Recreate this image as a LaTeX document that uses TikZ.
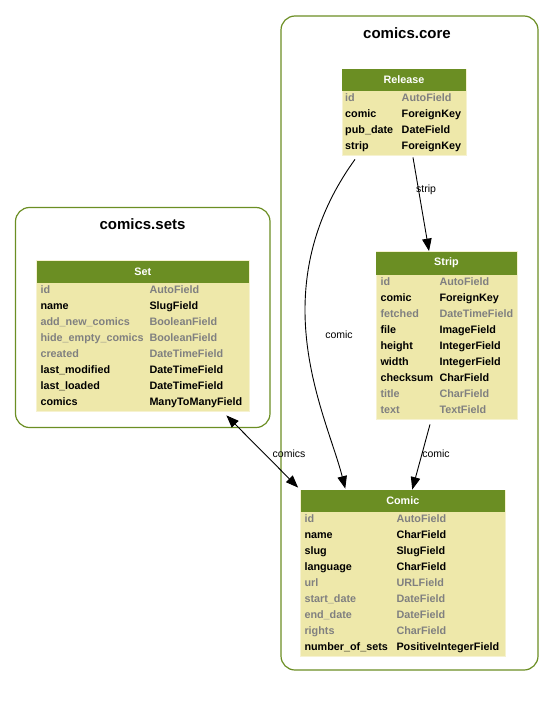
\documentclass[tikz,border=0pt]{standalone}
\usepackage{fontspec}
\setmainfont{Liberation Sans}
\usetikzlibrary{arrows.meta,fit}
\definecolor{olive}{HTML}{6B8E23}
\definecolor{pale}{HTML}{EEE8AA}
\definecolor{fieldgray}{HTML}{808080}

\tikzset{
  cluster/.style={draw=olive, line width=1.2pt, rounded corners=14pt, inner sep=0pt},
  clustertitle/.style={font=\bfseries\fontsize{15}{18}\selectfont, inner sep=0pt},
  tbody/.style={fill=pale, draw=pale!55!white, line width=0.8pt, inner sep=0pt},
  thead/.style={fill=olive, inner sep=0pt},
  headtext/.style={text=white, inner sep=0pt, font=\bfseries\fontsize{10.8}{12}\selectfont},
  fld/.style={font=\bfseries\fontsize{10.8}{12}\selectfont, inner sep=0pt, anchor=base west},
  key/.style={fld, text=black},
  opt/.style={fld, text=fieldgray},
  tip/.style={},
  edge/.style={draw=black, line width=0.9pt, -{Triangle[length=12.5pt,width=9.5pt]}},
  biedge/.style={edge, {Triangle[length=12.5pt,width=9.5pt]}-{Triangle[length=12.5pt,width=9.5pt]}},
  elabel/.style={font=\fontsize{10.5}{12}\selectfont, inner sep=0pt},
}

% table: name, left, right, top, header bottom, bottom, title
\newcommand\dbtable[7]{%
  \node[tbody, fit={(#2,#4) (#3,#6)}] (#1) {};
  \node[thead, fit={(#2,#4) (#3,#5)}] (#1-head) {};
  \node[headtext] (#1-title) at (#1-head.center) {#7};
}
% field row: node prefix, name x, type x, baseline y, name, type, style
\newcommand\frow[7]{%
  \node[#7] (#1-n) at (#2,#4) {#5};
  \node[#7] (#1-t) at (#3,#4) {#6};
}

\begin{document}
\begin{tikzpicture}[x=1pt, y=-1pt]
\useasboundingbox (0,0) rectangle (553,709);

% clusters
\node[cluster, fit={(281,16) (538,670)}] (core) {};
\node[clustertitle] (core-title) at (407,33) {comics.core};
\node[cluster, fit={(15.5,207.5) (270,427.5)}] (sets) {};
\node[clustertitle] (sets-title) at (142.5,224) {comics.sets};

% Release
\dbtable{release}{342}{466}{69}{91}{155}{Release}
\frow{release-id}{345}{401.5}{101.5}{id}{AutoField}{opt}
\frow{release-comic}{345}{401.5}{117.5}{comic}{ForeignKey}{key}
\frow{release-pub}{345}{401.5}{133.5}{pub\_date}{DateField}{key}
\frow{release-strip}{345}{401.5}{149.5}{strip}{ForeignKey}{key}

% Set
\dbtable{set}{36.5}{249}{260.5}{282.5}{411}{Set}
\frow{set-id}{40.3}{149.3}{293.5}{id}{AutoField}{opt}
\frow{set-name}{40.3}{149.3}{309.5}{name}{SlugField}{key}
\frow{set-add}{40.3}{149.3}{325.5}{add\_new\_comics}{BooleanField}{opt}
\frow{set-hide}{40.3}{149.3}{341.5}{hide\_empty\_comics}{BooleanField}{opt}
\frow{set-created}{40.3}{149.3}{357.5}{created}{DateTimeField}{opt}
\frow{set-lastmod}{40.3}{149.3}{373.5}{last\_modified}{DateTimeField}{key}
\frow{set-lastload}{40.3}{149.3}{389.5}{last\_loaded}{DateTimeField}{key}
\frow{set-comics}{40.3}{149.3}{405.5}{comics}{ManyToManyField}{key}

% Strip
\dbtable{strip}{376}{517}{251.5}{274.5}{419}{Strip}
\frow{strip-id}{380.3}{439.3}{285.3}{id}{AutoField}{opt}
\frow{strip-comic}{380.3}{439.3}{301.3}{comic}{ForeignKey}{key}
\frow{strip-fetched}{380.3}{439.3}{317.3}{fetched}{DateTimeField}{opt}
\frow{strip-file}{380.3}{439.3}{333.3}{file}{ImageField}{key}
\frow{strip-height}{380.3}{439.3}{349.3}{height}{IntegerField}{key}
\frow{strip-width}{380.3}{439.3}{365.3}{width}{IntegerField}{key}
\frow{strip-checksum}{380.3}{439.3}{381.3}{checksum}{CharField}{key}
\frow{strip-title}{380.3}{439.3}{397.3}{title}{CharField}{opt}
\frow{strip-text}{380.3}{439.3}{413.3}{text}{TextField}{opt}

% Comic
\dbtable{comic}{300.5}{505}{490}{512}{656.5}{Comic}
\frow{comic-id}{304.3}{396.3}{522.5}{id}{AutoField}{opt}
\frow{comic-name}{304.3}{396.3}{538.5}{name}{CharField}{key}
\frow{comic-slug}{304.3}{396.3}{554.5}{slug}{SlugField}{key}
\frow{comic-language}{304.3}{396.3}{570.5}{language}{CharField}{key}
\frow{comic-url}{304.3}{396.3}{586.5}{url}{URLField}{opt}
\frow{comic-start}{304.3}{396.3}{602.5}{start\_date}{DateField}{opt}
\frow{comic-end}{304.3}{396.3}{618.5}{end\_date}{DateField}{opt}
\frow{comic-rights}{304.3}{396.3}{634.5}{rights}{CharField}{opt}
\frow{comic-sets}{304.3}{396.3}{650.5}{number\_of\_sets}{PositiveIntegerField}{key}

% relations
\draw[edge] ([xshift=-49pt,yshift=-4pt]release.south)
  .. controls (322,205) and (305,255) .. (305,310)
  .. controls (305,380) and (333,440) .. ([xshift=-57.5pt,yshift=1pt]comic.north);
\node[elabel] (lbl-rel-comic) at (339,335) {comic};

\draw[edge] ([xshift=9pt,yshift=-2pt]release.south) -- ([xshift=-17.5pt]strip.north);
\node[elabel] (lbl-rel-strip) at (426,190) {strip};

\draw[edge] ([xshift=-16.5pt,yshift=-5pt]strip.south) -- ([xshift=9.5pt]comic.north);
\node[elabel] (lbl-strip-comic) at (436,454) {comic};

\draw[biedge] ([xshift=-23pt,yshift=-4pt]set.south east) -- ([xshift=-2pt,yshift=2pt]comic.north west);
\node[elabel] (lbl-set-comic) at (289,454) {comics};

\end{tikzpicture}
\end{document}
